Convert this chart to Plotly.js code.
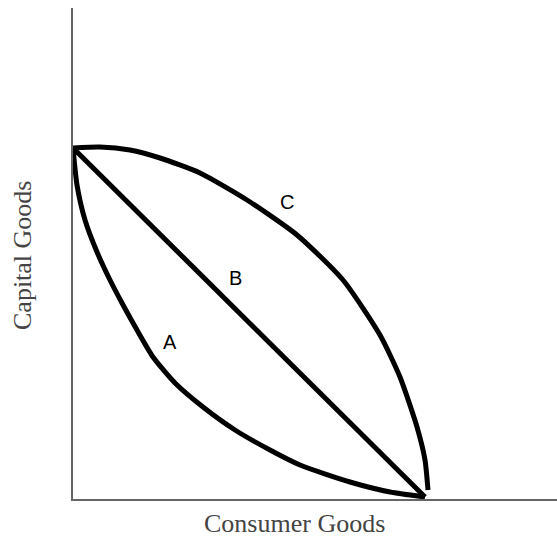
<!DOCTYPE html>
<html>
<head>
<meta charset="utf-8">
<script src="https://cdn.plot.ly/plotly-3.0.1.min.js"></script>
<style>html,body{margin:0;padding:0;background:#fff;}</style>
</head>
<body>
<div id="chart" style="width:557px;height:540px;"></div>
<script>
// Curve A (convex to origin)
const aX = [0, 4, 12, 24, 37, 49, 64, 80, 102, 130, 162, 197, 227, 277, 317, 352];
const aY = [351, 314, 279, 247, 219, 196, 169, 142, 116, 92, 69, 49, 34, 17, 7, 2];
// Curve B (straight line)
const bX = [0, 352];
const bY = [351, 2];
// Curve C (concave to origin)
const cX = [0, 27, 57, 87, 127, 174, 224, 270, 307, 327, 344, 352, 355];
const cY = [351, 352, 349, 341, 326, 299, 264, 219, 164, 122, 72, 39, 9];
// Labels
const labelText = ["C", "B", "A"];
const labelX = [214, 162, 97];
const labelY = [297, 221, 157];

const lineStyle = {color: '#000', width: 5, shape: 'spline', smoothing: 0.6};
const traces = [
  {x: aX, y: aY, mode: 'lines', line: lineStyle, hoverinfo: 'skip', name: 'A'},
  {x: bX, y: bY, mode: 'lines', line: {color: '#000', width: 5}, hoverinfo: 'skip', name: 'B'},
  {x: cX, y: cY, mode: 'lines', line: lineStyle, hoverinfo: 'skip', name: 'C'}
];

const W = 557, H = 540, L = 73, R = 0, T = 8, B = 41;
const annotations = labelText.map((t, i) => ({
  x: labelX[i], y: labelY[i], xref: 'x', yref: 'y', text: t, showarrow: false,
  xanchor: 'center', yanchor: 'middle',
  font: {family: 'Liberation Sans, Arial, sans-serif', size: 20, color: '#000'}
}));
annotations.push({
  x: (294 - L) / (W - L - R), y: (H - B - 523) / (H - T - B), xref: 'paper', yref: 'paper',
  xanchor: 'center', yanchor: 'middle',
  text: 'Consumer Goods', showarrow: false,
  font: {family: 'Liberation Serif, Times New Roman, serif', size: 26, color: '#444'}
});
annotations.push({
  x: (22 - L) / (W - L - R), y: (H - B - 255) / (H - T - B), xref: 'paper', yref: 'paper',
  xanchor: 'center', yanchor: 'middle',
  text: 'Capital Goods', showarrow: false, textangle: -90,
  font: {family: 'Liberation Serif, Times New Roman, serif', size: 26, color: '#444'}
});

const layout = {
  width: W, height: H,
  margin: {l: L, r: R, t: T, b: B, pad: 0},
  paper_bgcolor: '#fff', plot_bgcolor: '#fff',
  showlegend: false,
  xaxis: {range: [0, 484], showgrid: false, zeroline: false, showticklabels: false, ticks: '',
          showline: true, linecolor: '#666', linewidth: 2, fixedrange: true},
  yaxis: {range: [0, 491], showgrid: false, zeroline: false, showticklabels: false, ticks: '',
          showline: true, linecolor: '#666', linewidth: 2, fixedrange: true},
  annotations: annotations
};
Plotly.newPlot('chart', traces, layout, {displayModeBar: false, staticPlot: true});
</script>
</body>
</html>
